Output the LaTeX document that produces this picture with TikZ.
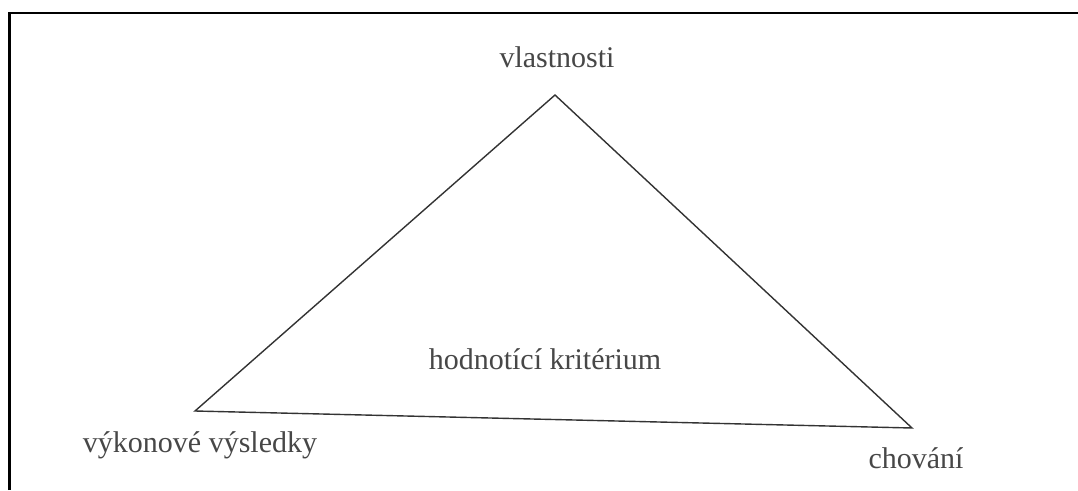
\documentclass[tikz,border=0pt]{standalone}
\usepackage{fontspec}
\setmainfont{Liberation Serif}
\begin{document}
\begin{tikzpicture}[x=1pt,y=-1pt,
  lbl/.style={anchor=base,inner sep=0pt,text=black!72,font=\fontsize{30}{36}\selectfont},
  tri/.style={draw=black!80,line width=1.4pt},
  frame/.style={draw=black,line width=2.6pt}]
\useasboundingbox (0,0) rectangle (1078,490);
\draw[frame] (9.5,490) -- (9.5,13) -- (1078,13);
\coordinate (A) at (555,95);
\coordinate (B) at (195,411);
\coordinate (C) at (912,428);
\draw[tri,line join=miter] (A) -- (B) -- (C) -- cycle;
\node[lbl] (vl) at (557,67) {vlastnosti};
\node[lbl] (hk) at (545,369) {hodnotící kritérium};
\node[lbl] (vv) at (200,452) {výkonové výsledky};
\node[lbl] (ch) at (916,468) {chování};
\end{tikzpicture}
\end{document}
